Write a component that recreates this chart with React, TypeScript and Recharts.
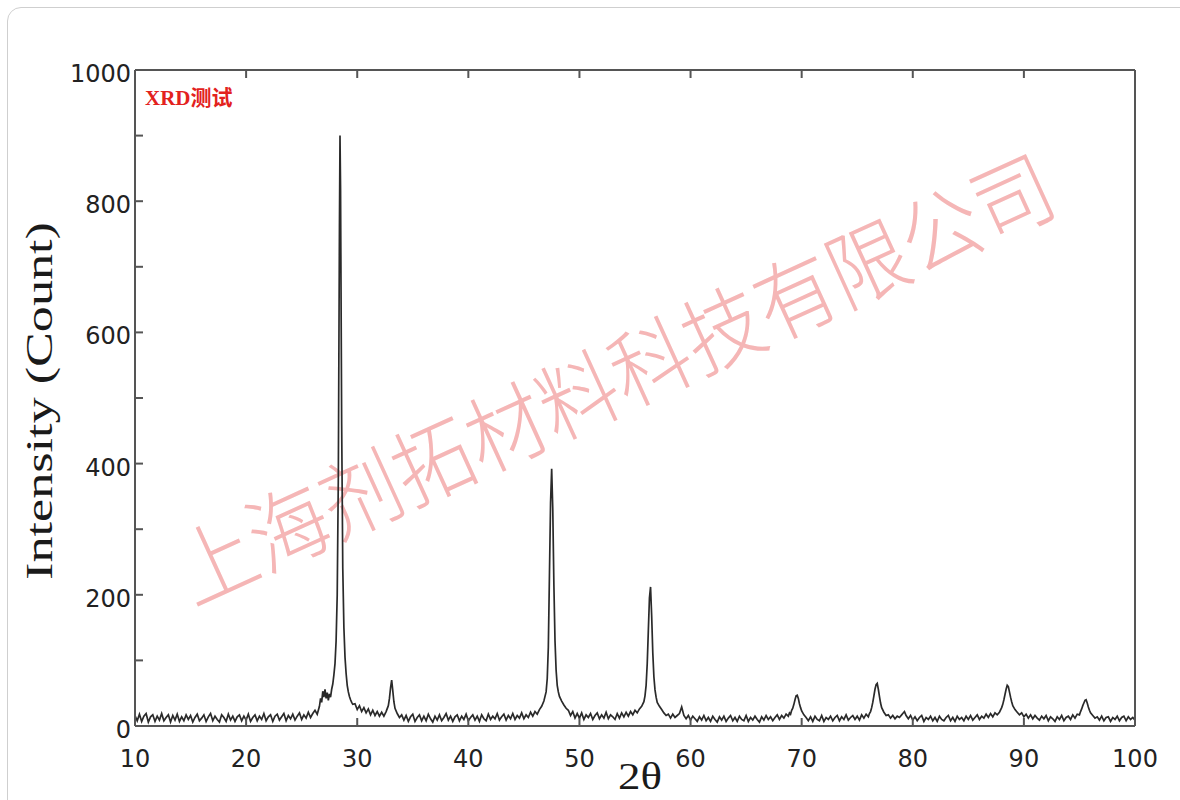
import { LineChart, Line, XAxis, YAxis } from 'recharts'

// XRD scan, 2θ (deg) vs intensity (count)
const lowAngle: [number, number][] = [
  [10.0, 16], [10.2, 8], [10.4, 18], [10.6, 7], [10.8, 15], [11.0, 19], [11.2, 6], [11.4, 14], [11.6, 17], [11.8, 7],
  [12.0, 15], [12.2, 9], [12.4, 19], [12.6, 8], [12.8, 13], [13.0, 17], [13.2, 6], [13.4, 16], [13.6, 9], [13.8, 18],
  [14.0, 7], [14.2, 14], [14.4, 8], [14.6, 17], [14.8, 10], [15.0, 16], [15.2, 6], [15.4, 13], [15.6, 18], [15.8, 8],
  [16.0, 12], [16.2, 17], [16.4, 7], [16.6, 14], [16.8, 19], [17.0, 8], [17.2, 15], [17.4, 10], [17.6, 6], [17.8, 17],
  [18.0, 13], [18.2, 7], [18.4, 18], [18.6, 9], [18.8, 15], [19.0, 7], [19.2, 14], [19.4, 17], [19.6, 8], [19.8, 15],
  [20.0, 9], [20.2, 18], [20.4, 7], [20.6, 13], [20.8, 17], [21.0, 8], [21.2, 15], [21.4, 10], [21.6, 19], [21.8, 8],
  [22.0, 14], [22.2, 17], [22.4, 7], [22.6, 15], [22.8, 18], [23.0, 9], [23.2, 14], [23.4, 19], [23.6, 8], [23.8, 16],
  [24.0, 11], [24.2, 18], [24.4, 9], [24.6, 15], [24.8, 20], [25.0, 10], [25.2, 17], [25.4, 12], [25.6, 21], [25.8, 13],
  [26.0, 19], [26.2, 24], [26.4, 18],
]

const peak28: [number, number][] = [
  [26.6, 30], [26.7, 42], [26.8, 36], [26.9, 53], [27.0, 44], [27.1, 56], [27.2, 42], [27.3, 51], [27.4, 39], [27.5, 49],
  [27.6, 44], [27.7, 56], [27.8, 64], [27.9, 78], [28.0, 95], [28.1, 130], [28.2, 200], [28.3, 380], [28.4, 760], [28.45, 900],
  [28.5, 820], [28.6, 460], [28.7, 240], [28.8, 150], [28.9, 105], [29.0, 80], [29.1, 62], [29.2, 52], [29.3, 45], [29.4, 40],
  [29.5, 36], [29.6, 33],
]

const peak33: [number, number][] = [
  [29.8, 34], [30.0, 25], [30.2, 31], [30.4, 22], [30.6, 28], [30.8, 20], [31.0, 26], [31.2, 17], [31.4, 24], [31.6, 16],
  [31.8, 22], [32.0, 15], [32.2, 21], [32.4, 15], [32.6, 22], [32.8, 31], [32.9, 42], [33.0, 58], [33.1, 70], [33.2, 54],
  [33.3, 37], [33.4, 27], [33.6, 19], [33.8, 13], [34.0, 17],
]

const midAngle: [number, number][] = [
  [34.2, 9], [34.4, 16], [34.6, 7], [34.8, 14], [35.0, 18], [35.2, 7], [35.4, 13], [35.6, 17], [35.8, 8], [36.0, 15],
  [36.2, 8], [36.4, 18], [36.6, 11], [36.8, 6], [37.0, 15], [37.2, 9], [37.4, 17], [37.6, 8], [37.8, 13], [38.0, 19],
  [38.2, 9], [38.4, 15], [38.6, 7], [38.8, 14], [39.0, 17], [39.2, 8], [39.4, 15], [39.6, 10], [39.8, 18], [40.0, 8],
  [40.2, 13], [40.4, 17], [40.6, 9], [40.8, 15], [41.0, 7], [41.2, 17], [41.4, 11], [41.6, 8], [41.8, 18], [42.0, 10],
  [42.2, 15], [42.4, 11], [42.6, 19], [42.8, 9], [43.0, 14], [43.2, 18], [43.4, 9], [43.6, 16], [43.8, 11], [44.0, 19],
  [44.2, 10], [44.4, 16], [44.6, 12], [44.8, 20], [45.0, 11], [45.2, 17], [45.4, 13], [45.6, 21], [45.8, 15], [46.0, 22],
  [46.2, 18],
]

const peak47: [number, number][] = [
  [46.4, 25], [46.6, 30], [46.8, 38], [47.0, 52], [47.1, 72], [47.2, 120], [47.3, 230], [47.4, 340], [47.5, 392], [47.6, 330],
  [47.7, 215], [47.8, 130], [47.9, 85], [48.0, 62], [48.1, 52], [48.2, 45], [48.4, 38], [48.6, 32], [48.8, 27], [49.0, 24],
  [49.2, 16], [49.4, 22], [49.6, 12], [49.8, 19], [50.0, 12], [50.2, 20], [50.4, 10], [50.6, 17], [50.8, 13], [51.0, 19],
  [51.2, 10], [51.4, 16], [51.6, 20], [51.8, 11], [52.0, 17], [52.2, 12], [52.4, 21], [52.6, 11], [52.8, 17], [53.0, 14],
  [53.2, 10], [53.4, 19], [53.6, 12], [53.8, 20], [54.0, 14], [54.2, 21], [54.4, 15], [54.6, 22], [54.8, 17], [55.0, 24],
  [55.2, 20],
]

const peak56: [number, number][] = [
  [55.4, 26], [55.6, 30], [55.8, 37], [55.9, 46], [56.0, 62], [56.1, 95], [56.2, 145], [56.3, 195], [56.4, 212], [56.5, 168],
  [56.6, 112], [56.7, 75], [56.8, 55], [56.9, 44], [57.0, 36], [57.2, 30], [57.4, 25], [57.6, 20], [57.8, 16],
  [58.0, 18], [58.2, 12], [58.4, 18], [58.6, 13], [58.8, 16], [59.0, 19], [59.2, 29], [59.4, 16], [59.6, 11], [59.8, 16],
  [60.0, 9], [60.2, 15], [60.4, 11], [60.6, 7], [60.8, 14], [61.0, 9], [61.2, 16], [61.4, 8], [61.6, 13], [61.8, 7],
  [62.0, 15], [62.2, 10], [62.4, 6], [62.6, 14], [62.8, 9], [63.0, 15], [63.2, 7], [63.4, 12], [63.6, 16], [63.8, 8],
  [64.0, 13], [64.2, 7], [64.4, 15], [64.6, 10], [64.8, 8], [65.0, 16], [65.2, 7], [65.4, 13], [65.6, 9], [65.8, 15],
  [66.0, 10], [66.2, 6], [66.4, 14], [66.6, 9], [66.8, 16], [67.0, 10], [67.2, 14], [67.4, 8], [67.6, 13], [67.8, 17],
  [68.0, 10], [68.2, 16], [68.4, 12], [68.6, 18], [68.8, 15],
]

const peak69: [number, number][] = [
  [68.9, 20], [69.0, 18], [69.1, 24], [69.2, 27], [69.3, 33], [69.4, 40], [69.5, 46], [69.6, 47], [69.7, 42], [69.8, 34],
  [69.9, 28], [70.0, 23], [70.2, 17], [70.4, 13], [70.6, 8], [70.8, 14], [71.0, 7], [71.2, 15], [71.4, 10], [71.6, 8],
  [71.8, 16], [72.0, 7], [72.2, 13], [72.4, 10], [72.6, 15], [72.8, 8], [73.0, 13], [73.2, 16], [73.4, 8], [73.6, 14],
  [73.8, 10], [74.0, 17], [74.2, 9], [74.4, 13], [74.6, 16], [74.8, 10], [75.0, 15], [75.2, 9], [75.4, 17], [75.6, 12],
  [75.8, 18], [76.0, 14],
]

const peak77: [number, number][] = [
  [76.1, 19], [76.2, 22], [76.3, 28], [76.4, 36], [76.5, 46], [76.6, 56], [76.7, 63], [76.8, 65], [76.9, 56], [77.0, 45],
  [77.1, 35], [77.2, 28], [77.4, 21], [77.6, 16], [77.8, 17], [78.0, 12], [78.2, 16], [78.4, 11], [78.6, 15], [78.8, 13],
  [79.0, 17], [79.1, 19], [79.25, 22], [79.4, 16], [79.6, 11], [79.8, 16], [80.0, 9], [80.2, 14], [80.4, 8], [80.6, 13],
  [80.8, 16], [81.0, 7], [81.2, 13], [81.4, 10], [81.6, 15], [81.8, 8], [82.0, 13], [82.2, 7], [82.4, 15], [82.6, 10],
  [82.8, 8], [83.0, 13], [83.2, 16], [83.4, 8], [83.6, 13], [83.8, 7], [84.0, 15], [84.2, 10], [84.4, 13], [84.6, 8],
  [84.8, 15], [85.0, 10], [85.2, 16], [85.4, 9], [85.6, 13], [85.8, 17], [86.0, 10], [86.2, 15], [86.4, 12], [86.6, 18],
  [86.8, 13], [87.0, 19], [87.2, 14], [87.4, 20], [87.6, 17],
]

const highAngle: [number, number][] = [
  [87.8, 21], [88.0, 28], [88.1, 33], [88.2, 40], [88.3, 48], [88.4, 56], [88.5, 62], [88.6, 60], [88.7, 52], [88.8, 44],
  [88.9, 37], [89.0, 31], [89.2, 25], [89.4, 21], [89.6, 17], [89.8, 20], [90.0, 14], [90.2, 18], [90.4, 12], [90.6, 17],
  [90.8, 11], [91.0, 16], [91.2, 12], [91.4, 9], [91.6, 15], [91.8, 11], [92.0, 16], [92.2, 8], [92.4, 14], [92.6, 11],
  [92.8, 7], [93.0, 14], [93.2, 10], [93.4, 16], [93.6, 8], [93.8, 13], [94.0, 15], [94.2, 10], [94.4, 17], [94.6, 12],
  [94.8, 18], [95.0, 17], [95.1, 22], [95.2, 26], [95.3, 31], [95.4, 35], [95.5, 39], [95.6, 40], [95.7, 35], [95.8, 29],
  [95.9, 24], [96.0, 20], [96.2, 16], [96.4, 12], [96.6, 14], [96.8, 9], [97.0, 15], [97.2, 8], [97.4, 13], [97.6, 14],
  [97.8, 7], [98.0, 13], [98.2, 10], [98.4, 15], [98.6, 8], [98.8, 13], [99.0, 15], [99.2, 8], [99.4, 14], [99.6, 10],
  [99.8, 13], [100.0, 9],
]

const xTicks = [10, 20, 30, 40, 50, 60, 70, 80, 90, 100]
const yTicks = [0, 100, 200, 300, 400, 500, 600, 700, 800, 900, 1000]

const scan = [...lowAngle, ...peak28, ...peak33, ...midAngle, ...peak47, ...peak56, ...peak69, ...peak77, ...highAngle]
  .map(([angle, count]) => ({ angle, count }))

const AXIS = '#555'
const TICK_FONT = '"DejaVu Sans", Verdana, sans-serif'

const BottomTick = (p: any) => (
  <g>
    <line x1={p.x} y1={p.y} x2={p.x} y2={p.y - 8} stroke={AXIS} strokeWidth={2} />
    <text x={p.x} y={p.y + 41} textAnchor="middle" fontSize={24} fontFamily={TICK_FONT} fill="#222">{p.payload.value}</text>
  </g>
)

const TopTick = (p: any) => <line x1={p.x} y1={p.y} x2={p.x} y2={p.y + 8} stroke={AXIS} strokeWidth={2} />

const LeftTick = (p: any) => {
  const v = p.payload.value
  return (
    <g>
      <line x1={p.x} y1={p.y} x2={p.x + 8} y2={p.y} stroke={AXIS} strokeWidth={2} />
      {v % 200 === 0 && (
        <text x={p.x - 4} y={p.y + 12} textAnchor="end" fontSize={24} fontFamily={TICK_FONT} fill="#222">{v}</text>
      )}
    </g>
  )
}

const RightTick = (p: any) => <line x1={p.x} y1={p.y} x2={p.x - 8} y2={p.y} stroke={AXIS} strokeWidth={2} />

export default function App() {
  return (
    <div style={{ position: 'absolute', left: 0, top: 0, width: 1180, height: 800, background: '#fff', overflow: 'hidden' }}>
      <div style={{ position: 'absolute', left: 7, top: 7, width: 1200, height: 820, border: '1px solid #cfcfcf', borderRadius: 14 }} />
      <svg width={1180} height={800} style={{ position: 'absolute', left: 0, top: 0 }}>
        <text
          x={612} y={374}
          textAnchor="middle" dominantBaseline="central"
          transform="rotate(-24.5 612 374)"
          fontSize={86} fontWeight={300} fontFamily='"Noto Sans CJK SC", sans-serif'
          fill="#f5b6b6" textLength={955} lengthAdjust="spacingAndGlyphs"
        >上海剂拓材料科技有限公司</text>
        <text x={145} y={105} fontSize={21} fontWeight="bold" fontFamily='"Liberation Serif", "Noto Sans CJK SC", serif' fill="#e3221d">XRD测试</text>
        <text
          x={52} y={401} textAnchor="middle" transform="rotate(-90 52 401)"
          fontSize={38} fontFamily='"Liberation Serif", serif' fill="#1a1a1a"
          textLength={358} lengthAdjust="spacingAndGlyphs"
        >Intensity (Count)</text>
        <text x={640} y={789} textAnchor="middle" fontSize={38} fontFamily='"Liberation Serif", serif' fill="#1a1a1a"
          textLength={44} lengthAdjust="spacingAndGlyphs">2θ</text>
      </svg>
      <div style={{ position: 'absolute', left: 0, top: 0 }}>
        <LineChart width={1180} height={800} data={scan} margin={{ top: 50, right: 25, bottom: 0, left: 0 }}>
          <XAxis
            dataKey="angle" type="number" domain={[10, 100]} ticks={xTicks} interval={0} allowDataOverflow
            height={74} tickSize={0} tickMargin={0} tickLine={false} stroke={AXIS} strokeWidth={2} tick={BottomTick}
          />
          <XAxis
            xAxisId="top" orientation="top" dataKey="angle" type="number" domain={[10, 100]} ticks={xTicks} interval={0}
            allowDataOverflow height={20} tickSize={0} tickMargin={0} tickLine={false} stroke={AXIS} strokeWidth={2} tick={TopTick}
          />
          <YAxis
            type="number" domain={[0, 1000]} ticks={yTicks} interval={0} width={135}
            tickSize={0} tickMargin={0} tickLine={false} stroke={AXIS} strokeWidth={2} tick={LeftTick}
          />
          <YAxis
            yAxisId="right" orientation="right" type="number" domain={[0, 1000]} ticks={yTicks} interval={0} width={20}
            tickSize={0} tickMargin={0} tickLine={false} stroke={AXIS} strokeWidth={2} tick={RightTick}
          />
          <Line
            dataKey="count" type="linear" stroke="#2a2a2a" strokeWidth={1.7} dot={false}
            isAnimationActive={false}
          />
        </LineChart>
      </div>
    </div>
  )
}
